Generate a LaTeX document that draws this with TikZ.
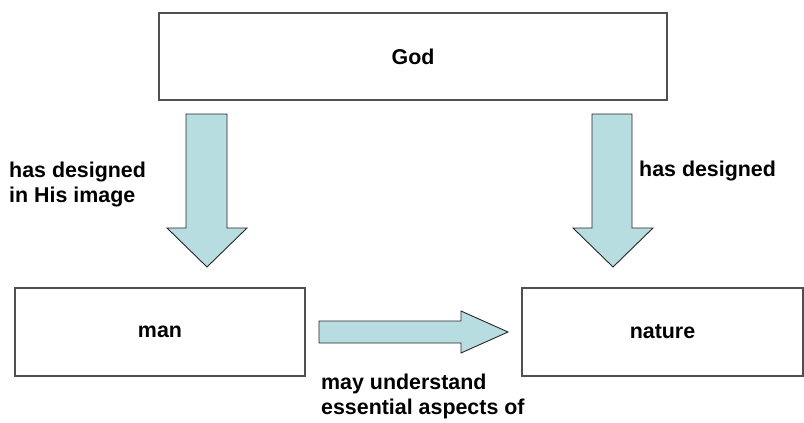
\documentclass[tikz,border=0pt]{standalone}
\usepackage{fontspec}
\setmainfont{Liberation Sans}
\usetikzlibrary{positioning}

\definecolor{arrowblue}{RGB}{183,221,225}
\definecolor{boxgray}{RGB}{80,80,80}

\begin{document}
\begin{tikzpicture}[
    x=1pt, y=-1pt,
    box/.style={rectangle, draw=boxgray, line width=1.3pt, fill=white, inner sep=0pt, font=\fontsize{21.4}{25}\selectfont\bfseries},
    blockarrow/.style={draw=black!85, line width=0.9pt, fill=arrowblue, line join=miter},
    lbl/.style={inner sep=0pt, align=left, font=\fontsize{21.4}{25}\selectfont\bfseries}
]
    \useasboundingbox (0,0) rectangle (804,423);

    \node[box, minimum width=508pt, minimum height=87pt] (god) at (413,56.5) {God};
    \node[box, minimum width=290pt, minimum height=88pt] (man) at (160,332) {man};
    \node[box, minimum width=281pt, minimum height=88pt] (nature) at (662.5,332) {nature};

    % block arrows
    \coordinate (godman) at (186,114);
    \coordinate (godnature) at (592,114);
    \coordinate (mannature) at (319,321);

    \draw[blockarrow] (godman) -- ++(41,0) -- ++(0,114) -- ++(20,0) -- ++(-40,39) -- ++(-40,-39) -- ++(19,0) -- cycle;
    \draw[blockarrow] (godnature) -- ++(40,0) -- ++(0,114) -- ++(21,0) -- ++(-40,39) -- ++(-40,-39) -- ++(19,0) -- cycle;
    \draw[blockarrow] (mannature) -- ++(142,0) -- ++(0,-10) -- ++(47,21) -- ++(-47,21) -- ++(0,-10) -- ++(-142,0) -- cycle;

    % labels (base is the last line)
    \node[lbl, anchor=base west] (lblimage) at (9,202) {has designed\\in His image};
    \node[lbl, anchor=base west] (lbldesigned) at (639,176) {has designed};
    \node[lbl, anchor=base west] (lblunderstand) at (321,414) {may understand\\essential aspects of};
\end{tikzpicture}
\end{document}
